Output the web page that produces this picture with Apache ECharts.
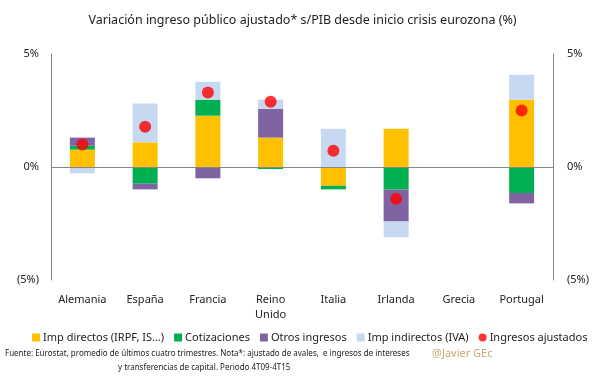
<!DOCTYPE html>
<html>
<head>
<meta charset="utf-8">
<script src="https://cdn.jsdelivr.net/npm/echarts@6/dist/echarts.min.js"></script>
<style>
html,body{margin:0;padding:0;background:#fff;}
#chart{width:605px;height:378px;}
</style>
</head>
<body>
<div id="chart"></div>
<script>
const categories = ['Alemania', 'España', 'Francia', 'Reino\nUnido', 'Italia', 'Irlanda', 'Grecia', 'Portugal'];
const impDirectos = [0.77, 1.09, 2.27, 1.30, -0.83, 1.69, null, 2.98];
const cotizaciones = [0.17, -0.74, 0.71, -0.09, -0.16, -1.00, null, -1.15];
const otrosIngresos = [0.36, -0.25, -0.50, 1.28, null, -1.41, null, -0.46];
const impIndirectos = [-0.28, 1.72, 0.79, 0.40, 1.69, -0.70, null, 1.10];
const ingresosAjustados = [1.00, 1.78, 3.30, 2.89, 0.72, -1.40, null, 2.50];
const yTicks = [-5, 0, 5];

const FONT = 'Noto Sans';
const chart = echarts.init(document.getElementById('chart'), null, {renderer: 'canvas'});

function pct(v) {
  if (v > 0) return v + '%';
  if (v < 0) return '(' + (-v) + '%)';
  return '0%';
}

const yAxisBase = {
  type: 'value', min: yTicks[0], max: yTicks[yTicks.length - 1], interval: 5,
  axisLine: {show: true, lineStyle: {color: '#868686', width: 1}},
  axisTick: {show: false},
  splitLine: {show: false},
  axisLabel: {formatter: pct, color: '#222', fontFamily: FONT, fontSize: 11}
};

function barSeries(name, data, color, extra) {
  return Object.assign({
    name: name, type: 'bar', stack: 'total', data: data,
    barWidth: 25, itemStyle: {color: color},
    emphasis: {disabled: true}
  }, extra || {});
}

chart.setOption({
  animation: false,
  title: {
    text: 'Variación ingreso público ajustado* s/PIB desde inicio crisis eurozona (%)',
    left: 'center', top: 9,
    textStyle: {fontFamily: FONT, fontSize: 12.5, fontWeight: 'normal', color: '#222'}
  },
  grid: {left: 51, right: 52, top: 54, bottom: 98},
  xAxis: {
    type: 'category', data: categories,
    axisLine: {show: false}, axisTick: {show: false},
    axisLabel: {color: '#222', fontFamily: FONT, fontSize: 11, margin: 12, lineHeight: 15, interval: 0}
  },
  yAxis: [
    Object.assign({}, yAxisBase, {position: 'left', axisLabel: Object.assign({}, yAxisBase.axisLabel, {margin: 12})}),
    Object.assign({}, yAxisBase, {position: 'right', axisLabel: Object.assign({}, yAxisBase.axisLabel, {margin: 14})})
  ],
  legend: {
    bottom: 35, left: 32, width: 573, padding: 0, itemWidth: 8, itemHeight: 8, itemGap: 10,
    textStyle: {fontFamily: FONT, fontSize: 11, color: '#222', padding: [0, 0, 0, -2]},
    data: [
      {name: 'Imp directos (IRPF, IS...)', icon: 'rect'},
      {name: 'Cotizaciones', icon: 'rect'},
      {name: 'Otros ingresos', icon: 'rect'},
      {name: 'Imp indirectos (IVA)', icon: 'rect'},
      {name: 'Ingresos ajustados', icon: 'circle'}
    ]
  },
  series: [
    barSeries('Imp directos (IRPF, IS...)', impDirectos, '#FFC000', {
      markLine: {
        silent: true, symbol: 'none', label: {show: false},
        lineStyle: {color: '#868686', width: 1, type: 'solid'},
        data: [{yAxis: 0}]
      }
    }),
    barSeries('Cotizaciones', cotizaciones, '#00B050'),
    barSeries('Otros ingresos', otrosIngresos, '#8064A2'),
    barSeries('Imp indirectos (IVA)', impIndirectos, '#C6D9F1'),
    {
      name: 'Ingresos ajustados', type: 'scatter', data: ingresosAjustados,
      symbol: 'circle', symbolSize: 12, itemStyle: {color: '#FF0000'}, z: 5
    }
  ],
  graphic: [
    {type: 'text', left: 5, top: 350, style: {text: 'Fuente: Eurostat, promedio de últimos cuatro trimestres. Nota*: ajustado de avales,  e ingresos de intereses', font: '8px "Noto Sans"', fill: '#222'}},
    {type: 'text', left: 118, top: 364, style: {text: 'y transferencias de capital. Periodo 4T09-4T15', font: '8px "Noto Sans"', fill: '#222'}},
    {type: 'text', left: 432, top: 348, style: {text: '@Javier GEc', font: '11px "Noto Sans"', fill: '#C4A870'}}
  ]
});
</script>
</body>
</html>
